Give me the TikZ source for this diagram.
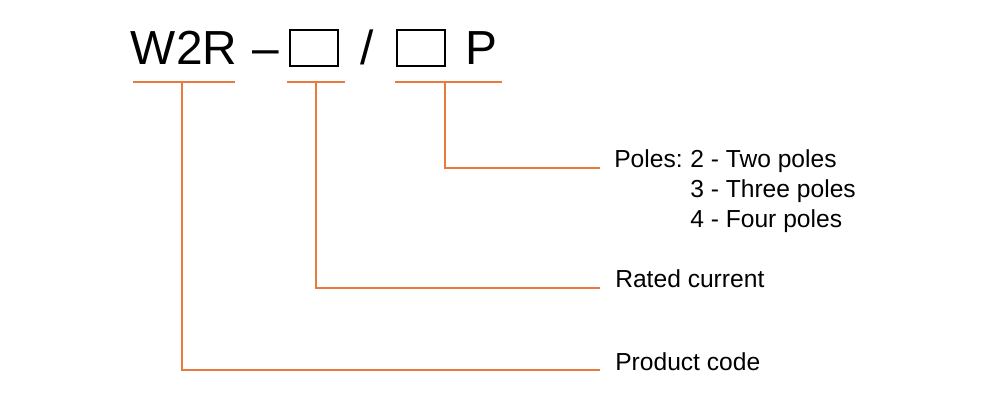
\documentclass[tikz,border=0pt]{standalone}
\usepackage{fontspec}
\setmainfont{Liberation Sans}
\usetikzlibrary{positioning}
\definecolor{codeorange}{RGB}{232,122,62}

\begin{document}
\begin{tikzpicture}[x=0.025cm,y=-0.025cm]
    \tikzstyle{big} = [font=\fontsize{34}{40}\selectfont,inner sep=0pt,anchor=base]
    \tikzstyle{slot} = [draw,thick,minimum width=1.2cm,minimum height=0.9cm,inner sep=0pt]
    \tikzstyle{ann} = [font=\fontsize{17.5}{20}\selectfont,inner sep=0pt,anchor=base west]
    \tikzstyle{lead} = [draw=codeorange,line width=0.9pt]
    \useasboundingbox (0,0) rectangle (1000,400);

    \node[big] (code) at (184,65) {W2R};
    \node[big] (dash) at (266,65) {--};
    \node[slot] (rated) at (314,48) {};
    \node[big] (slash) at (367,65) {/};
    \node[slot] (poles) at (421,48) {};
    \node[big] (p) at (481,65) {P};

    \coordinate (u1) at (182,82);
    \coordinate (u2) at (316,82);
    \coordinate (u3) at (445,82);
    \draw[lead] (133,82) -- (235,82);
    \draw[lead] (287,82) -- (345,82);
    \draw[lead] (395,82) -- (502,82);

    \node[ann] (polelbl) at (614,168) {Poles:};
    \node[ann] (p2) at (690,168) {2 - Two poles};
    \node[ann] (p3) at (690,198) {3 - Three poles};
    \node[ann] (p4) at (690,228) {4 - Four poles};
    \node[ann] (ratedlbl) at (615,287) {Rated current};
    \node[ann] (codelbl) at (615,370) {Product code};

    \coordinate (e1) at (600,370);
    \coordinate (e2) at (600,288);
    \coordinate (e3) at (600,168);
    \draw[lead] (u1) |- (e1);
    \draw[lead] (u2) |- (e2);
    \draw[lead] (u3) |- (e3);
\end{tikzpicture}
\end{document}
